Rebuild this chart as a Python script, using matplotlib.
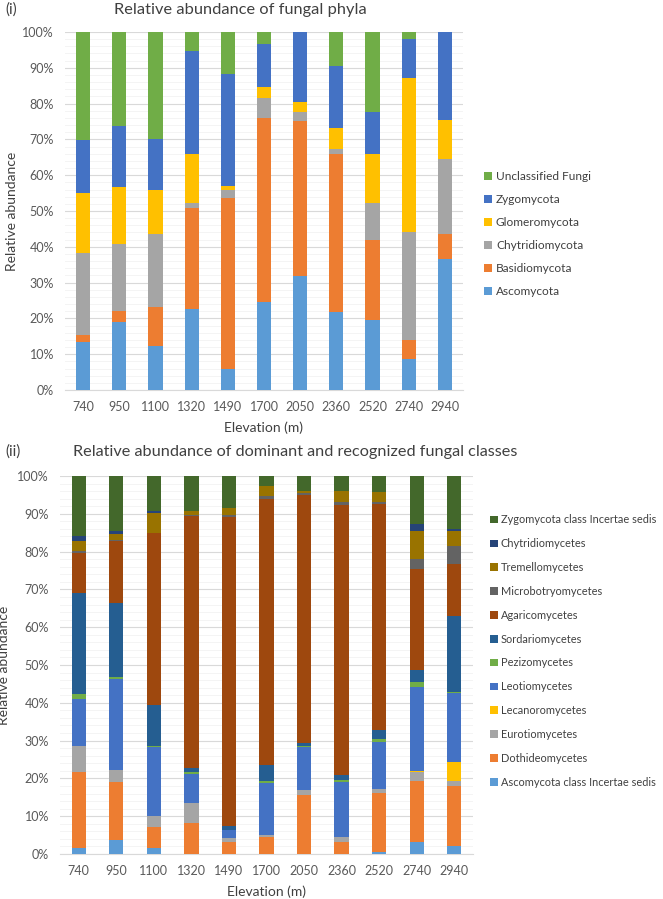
import numpy as np
import matplotlib.pyplot as plt
from matplotlib.ticker import PercentFormatter, MultipleLocator

plt.rcParams['font.family'] = ['Lato', 'DejaVu Sans']

elevations = ['740', '950', '1100', '1320', '1490', '1700', '2050', '2360', '2520', '2740', '2940']

# fungal phyla (%), bottom to top
phyla = ['Ascomycota', 'Basidiomycota', 'Chytridiomycota', 'Glomeromycota', 'Zygomycota', 'Unclassified Fungi']
ascomycota = [13.3, 19.1, 12.4, 22.5, 6.0, 24.5, 31.8, 21.9, 19.5, 8.7, 36.6]
basidiomycota = [2.0, 2.9, 10.9, 28.4, 47.7, 51.5, 43.3, 44.0, 22.5, 5.3, 6.9]
chytridiomycota = [23.1, 18.7, 20.4, 1.2, 2.3, 5.6, 2.6, 1.5, 10.3, 30.0, 20.9]
glomeromycota = [16.5, 16.0, 12.2, 13.9, 1.1, 3.1, 2.8, 5.9, 13.7, 43.1, 10.9]
zygomycota = [14.9, 17.1, 14.1, 28.6, 31.3, 11.9, 19.5, 17.3, 11.7, 10.9, 24.7]
unclassified = [30.2, 26.2, 30.0, 5.4, 11.6, 3.4, 0.0, 9.4, 22.3, 2.0, 0.0]
phyla_colors = ['#5B9BD5', '#ED7D31', '#A5A5A5', '#FFC000', '#4472C4', '#70AD47']

# fungal classes (%), bottom to top
classes = ['Ascomycota class Incertae sedis', 'Dothideomycetes', 'Eurotiomycetes', 'Lecanoromycetes',
           'Leotiomycetes', 'Pezizomycetes', 'Sordariomycetes', 'Agaricomycetes', 'Microbotryomycetes',
           'Tremellomycetes', 'Chytridiomycetes', 'Zygomycota class Incertae sedis']
asco_is = [1.6, 3.7, 1.6, 0.0, 0.0, 0.0, 0.0, 0.0, 0.4, 3.1, 2.2]
dothideo = [20.2, 15.3, 5.6, 8.1, 3.3, 4.4, 15.7, 3.3, 15.8, 16.3, 15.8]
eurotio = [6.8, 3.2, 2.9, 5.3, 1.0, 0.6, 1.1, 1.3, 1.0, 2.2, 1.3]
lecanoro = [0.0, 0.0, 0.0, 0.0, 0.0, 0.0, 0.0, 0.0, 0.0, 0.4, 5.0]
leotio = [12.3, 24.1, 18.1, 7.7, 2.0, 13.9, 11.6, 14.5, 12.5, 22.1, 18.4]
pezizo = [1.3, 0.6, 0.4, 0.5, 0.0, 0.3, 0.2, 0.5, 0.6, 1.3, 0.2]
sordario = [26.9, 19.6, 10.8, 1.1, 1.2, 4.3, 0.7, 1.3, 2.5, 3.3, 20.1]
agarico = [10.6, 16.4, 45.6, 66.7, 81.7, 70.4, 65.7, 71.4, 59.8, 26.6, 13.7]
microbotryo = [0.5, 0.3, 0.0, 0.2, 0.4, 0.8, 0.5, 0.9, 0.6, 2.7, 4.8]
tremello = [2.6, 1.5, 5.1, 1.1, 1.9, 2.7, 0.4, 2.9, 2.5, 7.5, 4.0]
chytridio = [1.2, 0.8, 0.6, 0.0, 0.0, 0.0, 0.0, 0.0, 0.0, 1.8, 0.5]
zygo_is = [16.0, 14.5, 9.3, 9.3, 8.5, 2.6, 4.1, 3.9, 4.3, 12.7, 14.0]
class_colors = ['#5B9BD5', '#ED7D31', '#A5A5A5', '#FFC000', '#4472C4', '#70AD47',
                '#255E91', '#9E480E', '#636363', '#997300', '#264478', '#43682B']

W, H = 663, 899
fig = plt.figure(figsize=(W / 100, H / 100), dpi=100)
txt = '#404040'
tick_col = '#595959'


def px_axes(left, top, right, bottom):
    return fig.add_axes([left / W, 1 - bottom / H, (right - left) / W, (bottom - top) / H])


def stacked(ax, series, names, colors, width, ylab_x):
    x = np.arange(len(elevations))
    base = np.zeros(len(elevations))
    for vals, name, col in zip(series, names, colors):
        ax.bar(x, vals, width, bottom=base, color=col, label=name, zorder=3)
        base += np.array(vals)
    ax.set_xlim(-0.5, len(elevations) - 0.5)
    ax.set_ylim(0, 100)
    ax.set_xticks(x)
    ax.set_xticklabels(elevations)
    ax.yaxis.set_major_locator(MultipleLocator(10))
    ax.yaxis.set_minor_locator(MultipleLocator(2))
    ax.yaxis.set_major_formatter(PercentFormatter(decimals=0))
    ax.grid(axis='y', which='major', color='#D9D9D9', lw=0.8, zorder=0)
    ax.grid(axis='y', which='minor', color='#F2F2F2', lw=0.6, zorder=0)
    for s in ['top', 'right', 'left']:
        ax.spines[s].set_visible(False)
    ax.spines['bottom'].set_color('#D9D9D9')
    ax.tick_params(axis='both', which='both', length=0, labelsize=9, colors=tick_col, pad=8)
    ax.set_xlabel('Elevation (m)', fontsize=10, color=txt, labelpad=6)
    ax.set_ylabel('Relative abundance', fontsize=10, color=txt)
    ax.yaxis.set_label_coords(ylab_x, 0.5)


def legend(ax, x, y, size, spacing):
    h, l = ax.get_legend_handles_labels()
    ax.legend(h[::-1], l[::-1], loc='center left', bbox_to_anchor=(x / W, 1 - y / H),
              bbox_transform=fig.transFigure, frameon=False, fontsize=size, labelcolor=txt,
              handlelength=0.7, handleheight=0.7, handletextpad=0.3, labelspacing=spacing,
              borderaxespad=0, borderpad=0)


# (i) phyla
ax1 = px_axes(65, 32, 463, 390)
stacked(ax1, [ascomycota, basidiomycota, chytridiomycota, glomeromycota, zygomycota, unclassified],
        phyla, phyla_colors, 0.39, -0.118)
legend(ax1, 484, 234, 8.6, 1.0)
fig.text(5 / W, 1 - 10 / H, '(i)', fontsize=11, color=txt, va='center', ha='left')
fig.text(240 / W, 1 - 10 / H, 'Relative abundance of fungal phyla', fontsize=11.8, color=txt,
         va='center', ha='center')

# (ii) classes
ax2 = px_axes(60, 476, 473, 854)
stacked(ax2, [asco_is, dothideo, eurotio, lecanoro, leotio, pezizo, sordario, agarico,
              microbotryo, tremello, chytridio, zygo_is], classes, class_colors, 0.38, -0.12)
legend(ax2, 490, 651, 7.9, 1.17)
fig.text(5 / W, 1 - 452 / H, '(ii)', fontsize=11, color=txt, va='center', ha='left')
fig.text(295 / W, 1 - 452 / H, 'Relative abundance of dominant and recognized fungal classes',
         fontsize=11.7, color=txt, va='center', ha='center')

fig.savefig('out.png', dpi=100)
